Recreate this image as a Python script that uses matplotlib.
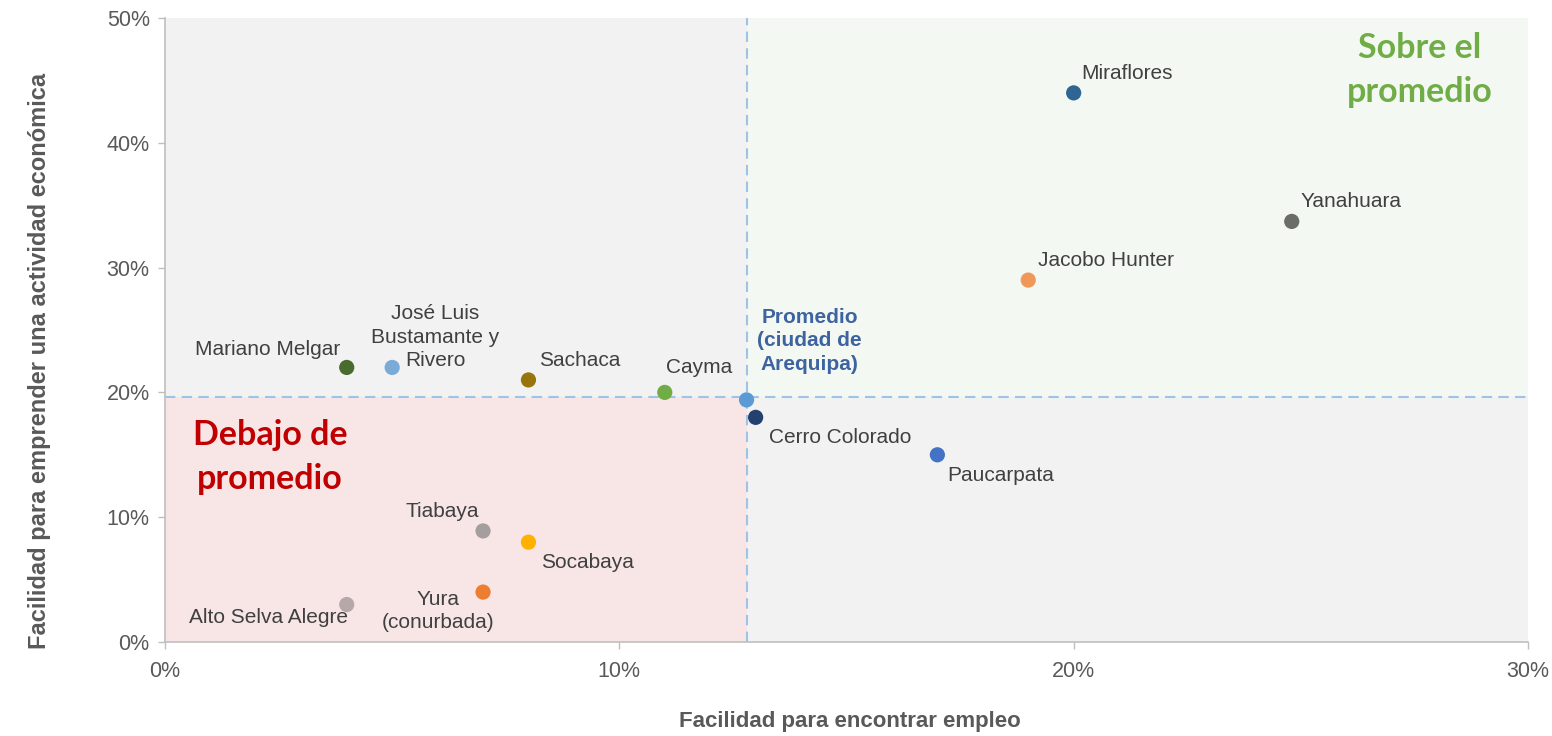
import matplotlib
matplotlib.use("Agg")
import matplotlib.pyplot as plt
from matplotlib.ticker import FuncFormatter

plt.rcParams['font.family'] = ['Liberation Sans', 'DejaVu Sans']

# Data (percent)
districts = ["Miraflores", "Yanahuara", "Jacobo Hunter", "Mariano Melgar",
             "José Luis\nBustamante y\nRivero", "Sachaca", "Cayma",
             "Promedio\n(ciudad de\nArequipa)", "Cerro Colorado", "Paucarpata",
             "Tiabaya", "Socabaya", "Yura\n(conurbada)", "Alto Selva Alegre"]
empleo = [20.0, 24.8, 19.0, 4.0, 5.0, 8.0, 11.0, 12.8, 13.0, 17.0, 7.0, 8.0, 7.0, 4.0]
emprender = [44.0, 33.7, 29.0, 22.0, 22.0, 21.0, 20.0, 19.4, 18.0, 15.0, 8.9, 8.0, 4.0, 3.0]
avg_x = 12.8
avg_y = 19.6

colors = ["#2e6593", "#6b6e66", "#f0975a", "#4a6b2e", "#7aaad8", "#98740c", "#70ad47",
          "#5b9bd5", "#23406f", "#4472c4", "#a59e9e", "#ffb000", "#ed7d31", "#b6a8a8"]
# label offsets in pixels (dx, dy, ha)
offsets = [(8, 19, 'left'), (9, 20, 'left'), (10, 20, 'left'), (-6, 18, 'right'),
           (43, 30, 'center'), (11, 19, 'left'), (1, 25, 'left'),
           (63, 59, 'center'), (13, -20, 'left'), (10, -21, 'left'),
           (-4, 19, 'right'), (13, -20, 'left'), (-45, -19, 'center'), (1, -13, 'right')]

fig = plt.figure(figsize=(15.52, 7.36), dpi=100)
ax = fig.add_axes([165/1552, 94/736, (1528-165)/1552, (642-18)/736])

xmax, ymax = 30, 50
ax.set_xlim(0, xmax)
ax.set_ylim(0, ymax)

# Quadrant shading
ax.fill_between([0, avg_x], avg_y, ymax, color="#f2f2f2", lw=0, zorder=0)
ax.fill_between([avg_x, xmax], avg_y, ymax, color="#f4f8f2", lw=0, zorder=0)
ax.fill_between([0, avg_x], 0, avg_y, color="#f8e6e6", lw=0, zorder=0)
ax.fill_between([avg_x, xmax], 0, avg_y, color="#f2f2f2", lw=0, zorder=0)

ax.axvline(avg_x, color="#9dc3e6", ls=(0, (5, 3)), lw=1.5, zorder=1)
ax.axhline(avg_y, color="#9dc3e6", ls=(0, (5, 3)), lw=1.5, zorder=1)

ax.scatter(empleo, emprender, s=120, c=colors, zorder=3, linewidths=0)

for name, x, y, (dx, dy, ha) in zip(districts, empleo, emprender, offsets):
    is_avg = name.startswith("Promedio")
    ax.annotate(name, (x, y), xytext=(dx, dy), textcoords='offset pixels',
                ha=ha, va='center', fontsize=15, linespacing=1.3,
                multialignment='center',
                color="#3d64a0" if is_avg else "#404040",
                fontweight='bold' if is_avg else 'normal', zorder=4)

# Quadrant titles
ax.annotate("Sobre el\npromedio", xy=(1420, 736-70), xycoords='figure pixels',
            ha='center', va='center', fontsize=24.5, fontweight='bold',
            color="#70ad47", family=['Lato', 'DejaVu Sans'], linespacing=1.5)
ax.annotate("Debajo de\npromedio", xy=(270, 736-457), xycoords='figure pixels',
            ha='center', va='center', fontsize=24.5, fontweight='bold',
            color="#c00000", family=['Lato', 'DejaVu Sans'], linespacing=1.45)

ax.set_xticks([0, 10, 20, 30])
ax.set_yticks([0, 10, 20, 30, 40, 50])
fmt = FuncFormatter(lambda v, p: f"{v:.0f}%")
ax.xaxis.set_major_formatter(fmt)
ax.yaxis.set_major_formatter(fmt)
ax.tick_params(colors="#bfbfbf", labelcolor="#595959", labelsize=15.5, length=5, width=1)
ax.tick_params(axis='x', pad=9)
ax.tick_params(axis='y', pad=6)

for side in ['top', 'right']:
    ax.spines[side].set_visible(False)
for side in ['left', 'bottom']:
    ax.spines[side].set_color("#bfbfbf")
    ax.spines[side].set_linewidth(1.2)

fig.text(850/1552, 1 - 722/736, "Facilidad para encontrar empleo", ha='center', va='center',
         fontsize=16, fontweight='bold', color="#595959")
fig.text(40/1552, 1 - 361/736, "Facilidad para emprender una actividad económica", ha='center',
         va='center', rotation=90, fontsize=17, fontweight='bold', color="#595959")

fig.savefig("out.png", dpi=100)
